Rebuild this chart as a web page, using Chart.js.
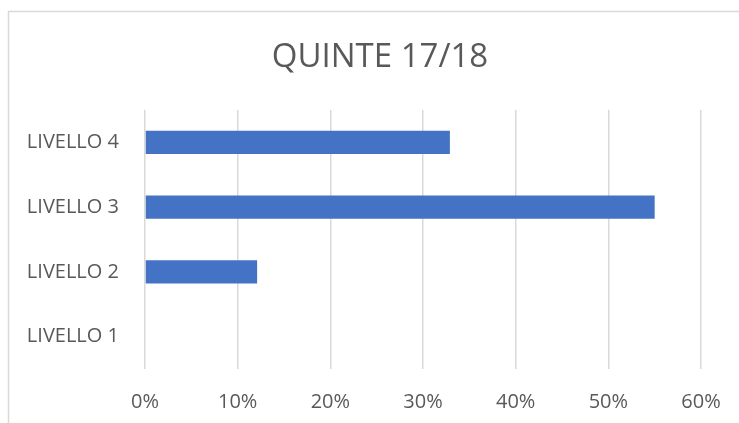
<!DOCTYPE html>
<html>
<head>
<meta charset="utf-8">
<script src="https://cdn.jsdelivr.net/npm/chart.js@4"></script>
<style>
    html, body { margin: 0; padding: 0; background: #fff; }
    #wrap { width: 739px; height: 423px; }
</style>
</head>
<body>
<div id="wrap"><canvas id="chart" width="739" height="423"></canvas></div>
<script>
// Chart data
const levels = ['LIVELLO 4', 'LIVELLO 3', 'LIVELLO 2', 'LIVELLO 1'];
const percentages = [32.9, 55, 12.1, 0];
const chartTitle = 'QUINTE 17/18';

const textColor = '#595959';
const fontFamily = "'Open Sans', 'Liberation Sans', sans-serif";

// light grey frame around the chart (Excel style)
const framePlugin = {
    id: 'frame',
    beforeDraw(chart) {
        const ctx = chart.ctx;
        ctx.save();
        ctx.fillStyle = '#ffffff';
        ctx.fillRect(0, 0, chart.width, chart.height);
        ctx.strokeStyle = '#d9d9d9';
        ctx.lineWidth = 1.5;
        ctx.strokeRect(8.5, 11.5, chart.width + 20, chart.height + 20);
        ctx.restore();
    }
};

const ctx = document.getElementById('chart').getContext('2d');
new Chart(ctx, {
    type: 'bar',
    data: {
        labels: levels,
        datasets: [{
            data: percentages,
            backgroundColor: '#4472C4',
            borderWidth: 0,
            categoryPercentage: 1,
            barPercentage: 0.36
        }]
    },
    options: {
        indexAxis: 'y',
        responsive: false,
        animation: false,
        layout: {
            // left padding keeps the title centred like the original (wider) frame
            padding: { left: 21, right: 0, top: 0, bottom: 0 }
        },
        plugins: {
            legend: { display: false },
            tooltip: { enabled: false },
            title: {
                display: true,
                text: chartTitle,
                color: textColor,
                font: { family: fontFamily, size: 33, weight: 'normal', lineHeight: 1.2 },
                padding: { top: 37.5, bottom: 32.9 }
            }
        },
        scales: {
            x: {
                min: 0,
                max: 60,
                ticks: {
                    stepSize: 10,
                    color: textColor,
                    padding: 21,
                    font: { family: fontFamily, size: 20 },
                    callback: (v) => v + '%'
                },
                grid: { color: '#d9d9d9', lineWidth: 1.5, drawTicks: false },
                border: { display: false },
                afterFit: (axis) => {
                    axis.height = 54;
                    axis.paddingRight = 38;
                }
            },
            y: {
                ticks: {
                    color: textColor,
                    padding: 26,
                    font: { family: fontFamily, size: 20 }
                },
                grid: { display: false, drawTicks: false },
                border: { display: false },
                afterFit: (axis) => { axis.width = 124; }
            }
        }
    },
    plugins: [framePlugin]
});
</script>
</body>
</html>
